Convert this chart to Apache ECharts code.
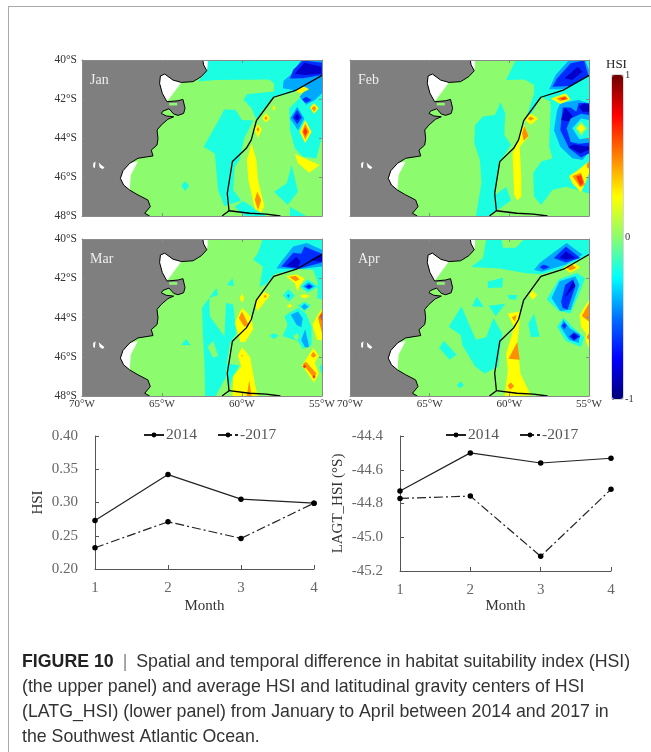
<!DOCTYPE html>
<html><head><meta charset="utf-8">
<style>html,body{margin:0;padding:0;background:#fff;width:651px;height:752px;overflow:hidden}
#frame{position:absolute;left:8px;top:6px;width:643px;height:746px;border-left:1.5px solid #aaa;border-top:1.5px solid #aaa;box-sizing:border-box}
#c{position:absolute;left:0;top:0;width:651px;height:752px;filter:blur(0.4px)}</style>
<script src="https://cdn.jsdelivr.net/npm/echarts@6/dist/echarts.min.js"></script>
</head><body><div id="frame"></div><div id="c"></div>
<script>
// HSI difference levels
const G=0,C=-0.2,L=-0.4,B=-0.65,N=-0.85,Y=0.25,O=0.47,R=0.65;
const months=['1','2','3','4'];
const hsi2014=[0.273,0.342,0.305,0.299];
const hsi2017=[0.232,0.271,0.246,0.299];
const lat2014=[-44.726,-44.50,-44.56,-44.532];
const lat2017=[-44.77,-44.756,-45.113,-44.716];
const panelNames=['Jan','Feb','Mar','Apr'];
const colorStops=['#00007a','#0000ff','#0070ff','#00ffff','#8cfc6e','#ffff00','#ff8000','#ff0000','#6e0000'];
// geography: [lon, lat]
const landCoast=[[-62.45,-40],[-62.4,-40.25],[-62.2,-40.55],[-62.54,-40.85],[-63.06,-41.11],[-63.79,-41.15],[-64.31,-41.03],[-64.83,-40.72],[-65.1,-40.82],[-65.15,-41.2],[-64.98,-41.71],[-64.69,-42.14],[-64,-42.09],[-63.69,-42.02],[-63.56,-42.48],[-63.65,-42.74],[-64,-42.84],[-64.27,-42.77],[-64.56,-42.5],[-64.94,-42.62],[-65.04,-42.74],[-64.73,-42.87],[-64.27,-42.91],[-64.63,-43.04],[-65.04,-43.33],[-65.31,-43.59],[-65.25,-44.02],[-65.31,-44.36],[-65.67,-44.62],[-65.56,-44.92],[-66.5,-45.04],[-67.02,-45.3],[-67.44,-45.68],[-67.6,-46.07],[-67.4,-46.41],[-67.02,-46.67],[-66.5,-46.92],[-65.88,-47.18],[-65.73,-47.52],[-66.08,-47.86],[-65.77,-48]];
const landCorners=[[-70,-48],[-70,-40]];
const noDataAreas=[
 [[-64.83,-40.72],[-65.1,-40.82],[-65.15,-41.2],[-64.98,-41.71],[-64.69,-42.14],[-63.79,-41.15],[-64.31,-41.03]],
 [[-66.5,-45.2],[-67.02,-45.3],[-67.44,-45.68],[-67.6,-46.07],[-67.4,-46.41],[-67.02,-46.67],[-66.95,-45.9]],
 [[-62.45,-40],[-62.15,-40],[-62.15,-40.3],[-62.2,-40.55],[-62.4,-40.25]]
];
const inlandLakes=[
 [[-69.3,-45.3],[-69.15,-45.21],[-69.2,-45.55],[-69.3,-45.5]],
 [[-68.95,-45.26],[-68.8,-45.38],[-68.6,-45.5],[-68.7,-45.6],[-68.9,-45.5]]
];
const sanJoseGulf=[[-64.55,-42.2],[-64.05,-42.2],[-64.05,-42.33],[-64.55,-42.33]];
const boundaryMain=[[-55,-40.79],[-56.6,-41.54],[-58.02,-41.91],[-59.1,-43.11],[-59.42,-44.1],[-59.73,-44.53],[-60.6,-45.21],[-60.92,-46.84],[-60.81,-47.73],[-61.25,-48]];
const boundarySouth=[[-60.81,-47.73],[-59.52,-47.86],[-58.48,-47.9],[-57.6,-48]];
const wholeArea=[[-70,-40],[-55,-40],[-55,-48],[-70,-48]];

const janPatches=[
[G,wholeArea],
[C,[[-62.1,-40],[-55,-40],[-55,-43.93],[-55.35,-45.04],[-56.2,-44.96],[-56.7,-44.53],[-57,-43.6],[-57.05,-42.48],[-56.2,-41.8],[-55.9,-41.4],[-56.6,-41.62],[-58,-41.9],[-58.7,-42.56],[-59.1,-43.08],[-59.4,-42.48],[-59.9,-42.05],[-59.7,-41.75],[-58,-41.62],[-58,-41.2],[-58.3,-41],[-61.6,-41.03],[-62.75,-41.1],[-62.2,-40.55]]],
[C,[[-62.4,-44.45],[-61.4,-43],[-61.1,-42.53],[-60.4,-42.56],[-60,-43.08],[-59.3,-43.1],[-59.85,-44],[-60.15,-45.13],[-60.45,-45.47],[-60.55,-46.67],[-60.05,-47.2],[-61.1,-47.5],[-61.5,-46.67],[-61.7,-44.8]]],
[C,[[-56.9,-45.38],[-56.5,-46.75],[-57.15,-47.43],[-58,-46.75],[-57.2,-46.32]]],
[C,[[-60.45,-47.52],[-59.95,-47.23],[-58.7,-47.86],[-58.5,-48],[-59.85,-48]]],
[C,[[-57,-47.52],[-56,-48],[-57,-48]]],
[C,[[-63.55,-46.2],[-63.3,-46.45],[-63.55,-46.72],[-63.8,-46.45]]],
[L,[[-57.45,-41.45],[-57.4,-41.06],[-56.9,-40.72],[-56.3,-40],[-55,-40],[-55,-41.7],[-55.45,-42.05],[-56,-42.3],[-56.4,-41.88],[-55.9,-41.4],[-56.6,-41.57]]],
[B,[[-57,-40.95],[-56.8,-40.5],[-56.2,-40.03],[-55,-40.14],[-55,-40.77],[-56.2,-40.94]]],
[N,[[-56.7,-40.7],[-56.1,-40.14],[-55.05,-40.35],[-55.05,-40.7],[-56,-40.77]]],
[B,[[-56.25,-42.02],[-56,-41.88],[-55.65,-42.05],[-56,-42.2]]],
[L,[[-56.55,-42.4],[-56.1,-43],[-56.5,-43.6],[-57,-43]]],
[B,[[-56.55,-42.55],[-56.25,-42.95],[-56.55,-43.3],[-56.85,-42.95]]],
[N,[[-56.55,-42.75],[-56.4,-42.95],[-56.55,-43.1],[-56.7,-42.95]]],
[Y,[[-56.7,-41.6],[-56.2,-41.33],[-55.8,-41.5],[-56.3,-41.7]]],
[Y,[[-55.75,-42.43],[-55.5,-42.2],[-55.2,-42.48],[-55.5,-42.77]]],
[O,[[-55.65,-42.48],[-55.5,-42.35],[-55.35,-42.48],[-55.5,-42.65]]],
[Y,[[-58,-42.3],[-57.9,-42.48],[-58,-42.6],[-58.1,-42.48]]],
[Y,[[-58.5,-42.7],[-58.25,-43],[-58.5,-43.2],[-58.75,-43]]],
[O,[[-58.5,-42.85],[-58.4,-43],[-58.5,-43.08],[-58.6,-43]]],
[Y,[[-59,-43.3],[-58.75,-43.55],[-59,-44],[-59.25,-43.55]]],
[O,[[-59,-43.42],[-58.92,-43.55],[-59,-43.7],[-59.08,-43.55]]],
[Y,[[-56.05,-43.08],[-55.65,-43.68],[-56.05,-44.27],[-56.4,-43.68]]],
[O,[[-56.05,-43.25],[-55.8,-43.68],[-56.05,-44.08],[-56.25,-43.68]]],
[R,[[-56.05,-43.43],[-55.92,-43.68],[-56.05,-43.9],[-56.17,-43.68]]],
[Y,[[-59.4,-44.27],[-59.1,-45.13],[-59,-46.15],[-58.6,-47.5],[-58.8,-47.83],[-59.2,-47.66],[-59.6,-46.15],[-59.7,-45.13]]],
[O,[[-59.05,-46.75],[-58.8,-47.18],[-59,-47.7],[-59.2,-47.18]]],
[Y,[[-56.7,-44.82],[-55.15,-45.38],[-55.8,-45.78],[-56.5,-45.3]]]
];
const febPatches=[
[G,wholeArea],
[C,[[-59.6,-40],[-55,-40],[-55,-46.84],[-56.45,-46.5],[-57.3,-46.67],[-58,-47.43],[-58.45,-47],[-58.5,-45.8],[-58,-45.2],[-57.3,-45.04],[-57.5,-44.45],[-57.4,-42.14],[-58,-41.88],[-58.65,-42.82],[-58.85,-42.74],[-58.45,-41.7],[-58.45,-41.28],[-59.05,-41],[-60.2,-41.03]]],
[C,[[-62.15,-43.33],[-61.65,-42.9],[-60.9,-42.82],[-60.55,-42.17],[-60.25,-42.74],[-60.3,-43.42],[-60.3,-43.85],[-59.9,-44.36],[-60.65,-45.3],[-60.85,-46.84],[-60.75,-47.7],[-61.25,-48],[-62.1,-48],[-61.75,-46.3],[-61.85,-45.13],[-62.2,-44.27]]],
[C,[[-60.85,-46.9],[-60.2,-46.5],[-59.9,-47.2],[-60.75,-47.7]]],
[L,[[-57.5,-41.5],[-57.1,-40.77],[-56.25,-40],[-55.25,-40],[-55,-40.5],[-55,-40.85],[-56.45,-41.5]]],
[B,[[-57.3,-41.37],[-57,-40.94],[-56.15,-40.17],[-55.3,-40.03],[-55.05,-40.77],[-56.15,-41.33]]],
[N,[[-56.55,-40.94],[-55.7,-40.34],[-55.4,-40.6],[-56.05,-41.03]]],
[L,[[-57,-42.56],[-56.8,-42.22],[-55.65,-42.05],[-55,-42.22],[-55,-44.7],[-55.4,-45.13],[-56.05,-45.04],[-56.8,-44.45],[-57.2,-43.6]]],
[B,[[-56.75,-43.16],[-56.65,-42.43],[-56.15,-42.43],[-55.8,-42.65],[-55.65,-42.2],[-55,-42.22],[-55,-44.8],[-55.5,-45],[-56.25,-44.53],[-56.8,-43.6]]],
[N,[[-56.75,-43.08],[-56.5,-42.43],[-56,-42.9],[-56.25,-43.16]]],
[N,[[-55.65,-42.4],[-55.3,-42.22],[-55,-42.3],[-55,-42.65],[-55.4,-42.65]]],
[N,[[-56.3,-44.45],[-55.95,-44.33],[-55,-44.45],[-55,-44.6],[-55.55,-44.8]]],
[L,[[-56.4,-43.5],[-56.15,-43],[-55.5,-42.75],[-55,-42.82],[-55,-44.24],[-55.65,-44.3],[-56.15,-44.2]]],
[C,[[-56.05,-43.5],[-55.5,-43],[-55,-43.08],[-55,-44],[-55.6,-44.07]]],
[G,[[-55.85,-43.5],[-55.5,-43.16],[-55.1,-43.5],[-55.5,-43.9]]],
[Y,[[-55.75,-43.5],[-55.5,-43.28],[-55.25,-43.5],[-55.5,-43.73]]],
[Y,[[-57.4,-41.97],[-56.45,-41.7],[-56.15,-42.02],[-56.8,-42.26]]],
[O,[[-57.05,-41.98],[-56.5,-41.83],[-56.3,-42],[-56.8,-42.1]]],
[R,[[-56.8,-41.97],[-56.5,-41.9],[-56.4,-42],[-56.65,-42.05]]],
[Y,[[-58.65,-42.74],[-58.2,-43],[-58.65,-43.33],[-59,-43.08]]],
[O,[[-58.65,-42.9],[-58.45,-43],[-58.65,-43.12],[-58.85,-43]]],
[Y,[[-59.05,-43.33],[-58.8,-43.93],[-59.35,-44.45],[-59.25,-45.98],[-59.25,-47],[-59.5,-47.2],[-59.7,-46.9],[-59.8,-44.8],[-59.45,-44.1],[-59.25,-43.6]]],
[O,[[-59.05,-43.38],[-58.8,-43.9],[-59.1,-44.14],[-59.2,-43.76]]],
[Y,[[-56.25,-45.95],[-55.75,-45.68],[-55.3,-45.38],[-55,-45.2],[-55,-45.8],[-55.2,-46.25],[-55.5,-46.8],[-56.05,-46.32]]],
[O,[[-56.05,-45.95],[-55.5,-45.78],[-55.25,-46.4],[-55.55,-46.53]]],
[R,[[-55.8,-45.98],[-55.5,-45.9],[-55.35,-46.3],[-55.55,-46.45]]],
[O,[[-55.15,-45.35],[-55,-45.2],[-55,-45.55],[-55.1,-45.55]]]
];
const marPatches=[
[G,wholeArea],
[C,[[-58.7,-40],[-55,-40],[-55,-43.1],[-55.3,-43],[-55.25,-42.25],[-55.55,-41.57],[-56.5,-41.53],[-58,-41.8],[-58.5,-42.3],[-58.9,-42.43],[-58.7,-41.4],[-59.3,-41.06],[-59,-40.7]]],
[L,[[-57.85,-41.5],[-57.55,-41.15],[-56.8,-40.38],[-55.95,-40.2],[-55,-40.55],[-55,-41.4],[-56.4,-41.53]]],
[B,[[-57.55,-41.4],[-56.8,-40.7],[-56.3,-40.75],[-56.1,-40.38],[-55,-40.75],[-55,-41.2],[-56.5,-41.53]]],
[N,[[-57.25,-41.37],[-56.6,-40.9],[-56.35,-41.15],[-56.5,-41.47]]],
[N,[[-55.7,-41.05],[-55,-40.75],[-55,-41.15],[-55.35,-41.15]]],
[C,[[-62.5,-43.5],[-61.6,-42.5],[-61.5,-42.85],[-62.05,-43],[-62,-43.95],[-61.1,-44.97],[-61,-43.25],[-60.55,-43.35],[-60.35,-44.8],[-60.75,-45.33],[-60.95,-46.35],[-61,-47.05],[-61.65,-48],[-62.3,-48],[-62.35,-46.35],[-62.45,-44.8]]],
[G,[[-62.15,-45.5],[-61.8,-45.2],[-61.5,-45.95],[-61.8,-46.05]]],
[C,[[-60.95,-46.35],[-60.15,-46.45],[-60.6,-47.03],[-60.75,-47.55],[-60.95,-47]]],
[C,[[-63.8,-45.4],[-63.5,-45.1],[-63.2,-45.42]]],
[C,[[-60.95,-42.35],[-60.6,-42],[-60.5,-42.4]]],
[C,[[-56.4,-42.42],[-55.9,-42.05],[-55.2,-42.42],[-55.9,-42.73]]],
[L,[[-56.2,-42.42],[-55.85,-42.2],[-55.45,-42.42],[-55.85,-42.6]]],
[B,[[-56.05,-42.42],[-55.8,-42.3],[-55.6,-42.42],[-55.8,-42.55]]],
[C,[[-57.45,-42.88],[-57.1,-42.55],[-56.7,-42.88],[-57.05,-43.18]]],
[L,[[-57.1,-42.8],[-57,-42.88],[-57.1,-43],[-57.2,-42.88]]],
[C,[[-56.5,-43.4],[-56.1,-43.2],[-55.7,-43.4],[-56.1,-43.7]]],
[L,[[-56.3,-43.45],[-56.1,-43.3],[-55.85,-43.45],[-56.1,-43.6]]],
[C,[[-57.35,-43.92],[-56.5,-43.5],[-56,-43.8],[-55.65,-44.47],[-55.65,-45.4],[-56.2,-45.6],[-56.5,-45.2],[-57.45,-44.96],[-57.15,-44.37]]],
[G,[[-56.8,-44.96],[-56.55,-44.8],[-56.4,-44.96],[-56.6,-45.2]]],
[L,[[-56.95,-43.86],[-56.5,-43.7],[-56.2,-44.05],[-56.3,-44.5],[-56.6,-44.37]]],
[L,[[-56.3,-45.15],[-56.05,-44.6],[-55.8,-45.5],[-56.05,-45.53]]],
[C,[[-58.3,-44.93],[-58,-44.8],[-57.7,-44.93],[-58,-45.1]]],
[C,[[-55,-46.35],[-55.15,-46.55],[-55,-46.9]]],
[Y,[[-57.25,-41.9],[-56.6,-41.8],[-56.1,-42],[-56.55,-42.67],[-56.7,-42.25]]],
[O,[[-57.05,-41.93],[-56.65,-41.87],[-56.4,-42.05],[-56.65,-42.15]]],
[Y,[[-56.4,-42.9],[-56.1,-42.8],[-55.75,-42.9],[-56.1,-43.03]]],
[Y,[[-57.2,-43.42],[-57,-43.3],[-56.85,-43.42],[-57.05,-43.52]]],
[Y,[[-55,-43.55],[-55.3,-43.92],[-55.6,-44.37],[-55.3,-45.15],[-55,-45.15]]],
[O,[[-55,-43.67],[-55.25,-44],[-55,-44.8]]],
[R,[[-55,-43.8],[-55.15,-43.95],[-55,-44.15]]],
[Y,[[-56.25,-46.45],[-55.55,-45.55],[-55.2,-45.93],[-55.45,-46.3],[-55.2,-46.85],[-55.5,-47.33]]],
[O,[[-56.2,-46.38],[-56,-46.25],[-55.35,-46.85],[-55.5,-47.08]]],
[O,[[-55.55,-45.75],[-55.35,-45.93],[-55.55,-46.05],[-55.7,-45.93]]],
[R,[[-56.1,-46.4],[-56,-46.5],[-56.1,-46.6],[-56.2,-46.5]]],
[R,[[-55.5,-46.92],[-55.4,-47.02],[-55.5,-47.12],[-55.6,-47.02]]],
[Y,[[-60.15,-43.02],[-60,-42.77],[-59.85,-43.02],[-60,-43.25]]],
[Y,[[-59.2,-43.2],[-58.6,-42.67],[-58.25,-42.87],[-59.05,-43.7]]],
[O,[[-58.55,-42.85],[-58.45,-42.9],[-58.55,-43],[-58.65,-42.9]]],
[Y,[[-60.45,-44.27],[-60,-43.5],[-59.4,-44],[-59.3,-44.6],[-59.8,-45.25],[-60.1,-45.25]]],
[O,[[-60.2,-44.03],[-60,-43.7],[-59.6,-44.37],[-59.85,-44.47]]],
[Y,[[-60.25,-45.92],[-60,-45.5],[-59.5,-46],[-59.15,-47.55],[-59,-48],[-60.6,-48],[-60.55,-47],[-60.05,-46.5]]],
[O,[[-60,-45.9],[-59.95,-45.95],[-60,-46],[-60.05,-45.95]]],
[O,[[-59.55,-47.2],[-59.4,-48],[-59.7,-48]]]
];
const aprPatches=[
[G,wholeArea],
[C,[[-61.45,-40],[-55,-40],[-55,-40.8],[-56.25,-41.4],[-58,-41.8],[-58.95,-41.75],[-60.6,-41.5],[-62.4,-41.43],[-61.65,-40.97]]],
[G,[[-60.5,-40],[-59.05,-40],[-59.6,-40.45],[-60.4,-40.45]]],
[L,[[-58.45,-41.57],[-58.1,-41.22],[-57.25,-40.7],[-56.4,-40.2],[-55.4,-40.8],[-56.45,-41.3],[-57.95,-41.67]]],
[B,[[-58.1,-41.43],[-57.85,-41.3],[-57.45,-41.43],[-57.85,-41.57]]],
[B,[[-57.2,-40.97],[-56.45,-40.38],[-55.55,-40.97],[-56.45,-41.2]]],
[N,[[-56.85,-40.97],[-56.45,-40.63],[-55.85,-40.97],[-56.45,-41.05]]],
[Y,[[-56.6,-41.43],[-55.95,-41.2],[-55.55,-41.47],[-56.2,-41.73]]],
[O,[[-56.45,-41.45],[-56.05,-41.33],[-55.8,-41.47],[-56.15,-41.6]]],
[C,[[-57.65,-43.07],[-56.9,-42.07],[-55.75,-41.73],[-55.25,-42],[-55.65,-42.85],[-56.15,-43.78],[-56.9,-43.67]]],
[L,[[-57.35,-43],[-56.85,-42.15],[-55.85,-41.9],[-55.6,-42.33],[-56.15,-43.6],[-56.8,-43.67]]],
[B,[[-56.75,-43.2],[-56.5,-42.35],[-56,-42.05],[-55.85,-42.4],[-56.35,-43.6],[-56.65,-43.5]]],
[N,[[-56.55,-43],[-56,-42.13],[-55.85,-42.4],[-56.25,-42.75]]],
[C,[[-57,-44.47],[-56.6,-44],[-56.05,-44.47],[-55.3,-45],[-55.5,-45.5],[-56.45,-45.2]]],
[L,[[-56.8,-44.47],[-56.6,-44.13],[-56.2,-44.55],[-55.55,-44.87],[-55.65,-45.3],[-56.25,-45.13]]],
[B,[[-56.7,-44.42],[-56.55,-44.25],[-56.4,-44.42],[-56.55,-44.6]]],
[B,[[-56.25,-44.97],[-55.95,-44.75],[-55.55,-44.97],[-55.95,-45.2]]],
[N,[[-56.1,-44.97],[-55.95,-44.83],[-55.7,-44.97],[-55.95,-45.1]]],
[C,[[-61.35,-42.17],[-60.4,-41.97],[-60.45,-42.47],[-61.35,-42.5]]],
[C,[[-60.1,-42.85],[-59.5,-42.85],[-59.6,-43.1],[-60,-43.07]]],
[C,[[-62.35,-43.43],[-62.05,-42.93],[-61.6,-43.47]]],
[C,[[-61.3,-43.4],[-60.25,-43.3],[-60.85,-43.93]]],
[C,[[-63.8,-44.47],[-63,-43.43],[-62.6,-44.2],[-62.1,-45.13],[-61.45,-45],[-61,-44.03],[-60.45,-44.8],[-60.55,-45.4],[-60.7,-46.5],[-61.55,-46.85],[-62.15,-46.5],[-62.95,-45.4],[-63.05,-44.9]]],
[C,[[-64.4,-45.55],[-64.1,-45.2],[-63.3,-45.9],[-63.75,-46.15]]],
[C,[[-63.3,-47.45],[-63.05,-47.25],[-62.85,-47.45],[-63.1,-47.6]]],
[C,[[-58.8,-44.3],[-58.45,-43.8],[-58.1,-44.97],[-58.65,-45]]],
[Y,[[-55,-43.1],[-55.6,-43.87],[-55.5,-44.47],[-55.2,-44.8],[-55.2,-45.2],[-55,-45.58]]],
[O,[[-55,-43.27],[-55.45,-43.92],[-55,-44.2]]],
[O,[[-55,-44.8],[-55.15,-45],[-55,-45.15]]],
[Y,[[-58.75,-42.87],[-58.55,-42.63],[-58.25,-42.87],[-58.55,-43.1]]],
[Y,[[-60.1,-43.8],[-59.3,-43.7],[-59.4,-44.63],[-59.5,-45.3],[-59.3,-46.85],[-58.65,-47.97],[-60.3,-48],[-60.1,-46.7],[-60.2,-45.85],[-59.7,-44.5]]],
[O,[[-59.85,-44],[-59.55,-43.87],[-59.65,-44.2]]],
[O,[[-60.05,-46.1],[-59.5,-45.25],[-59.35,-46.15]]],
[O,[[-60.1,-47.47],[-59.9,-47.3],[-59.7,-47.5],[-59.95,-47.68]]]
];
const allPatches=[janPatches,febPatches,marPatches,aprPatches];
const captionText='{b|FIGURE 10} {l||} Spatial and temporal difference in habitat suitability index (HSI)\n(the upper panel) and average HSI and latitudinal gravity centers of HSI\n(LATG_HSI) (lower panel) from January to April between 2014 and 2017 in\nthe Southwest Atlantic Ocean.';

const serif='"Liberation Serif"';
const grids=[
 {left:82,top:60,width:240,height:156},{left:350,top:60,width:239,height:156},
 {left:82,top:239,width:240,height:157},{left:350,top:239,width:239,height:157},
 {left:95,top:436,width:219,height:133},{left:400,top:436,width:211,height:135},
 {left:612,top:75,width:11,height:324,show:true,borderColor:'#b0b0b0',borderWidth:1,backgroundColor:'transparent'}];
const xAxes=[],yAxes=[],series=[];
const axisGray='#8a8a8a';
function polyRender(rings,fill){
  return (params,api)=>({type:'polygon',shape:{points:rings[params.dataIndex].map(p=>api.coord(p))},
    style:{fill:fill||api.visual('color')}});
}
function polySeries(g,rings,fill){
  return {type:'custom',coordinateSystem:'cartesian2d',xAxisIndex:g*2,yAxisIndex:g*2,clip:true,silent:true,
    data:rings.map((r,i)=>[i]),renderItem:polyRender(rings,fill),animation:false};
}
function lineSeries(g,pts,w){
  return {type:'line',xAxisIndex:g*2,yAxisIndex:g*2,data:pts,showSymbol:false,silent:true,clip:true,
    lineStyle:{color:'#000',width:w},animation:false,z:3};
}
const patchIdx=[];
panelNames.forEach((nm,g)=>{
  const showX=g>=2, showY=g%2===0;
  xAxes.push({gridIndex:g,type:'value',min:-70,max:-55,interval:5,position:'bottom',z:6,
    axisLine:{onZero:false,lineStyle:{color:axisGray}},axisTick:{inside:true,length:3,lineStyle:{color:axisGray}},splitLine:{show:false},
    axisLabel:{show:showX,margin:3,fontFamily:serif,fontSize:11,color:'#333',hideOverlap:false,showMinLabel:true,showMaxLabel:true,formatter:v=>Math.abs(v)+'°W'}});
  xAxes.push({gridIndex:g,type:'value',min:-70,max:-55,interval:5,position:'top',z:6,
    axisLine:{onZero:false,lineStyle:{color:axisGray}},axisTick:{inside:true,length:3,lineStyle:{color:axisGray}},splitLine:{show:false},axisLabel:{show:false}});
  yAxes.push({gridIndex:g,type:'value',min:-48,max:-40,interval:2,position:'left',z:6,
    axisLine:{onZero:false,lineStyle:{color:axisGray}},axisTick:{inside:true,length:3,lineStyle:{color:axisGray}},splitLine:{show:false},
    axisLabel:{show:showY,margin:5,fontFamily:serif,fontSize:11.5,color:'#333',showMinLabel:true,showMaxLabel:true,formatter:v=>Math.abs(v)+'°S'}});
  yAxes.push({gridIndex:g,type:'value',min:-48,max:-40,interval:2,position:'right',z:6,
    axisLine:{onZero:false,lineStyle:{color:axisGray}},axisTick:{inside:true,length:3,lineStyle:{color:axisGray}},splitLine:{show:false},axisLabel:{show:false}});
  const patches=allPatches[g];
  const rings=patches.map(p=>p[1]);
  patchIdx.push(series.length);
  series.push({type:'custom',coordinateSystem:'cartesian2d',xAxisIndex:g*2,yAxisIndex:g*2,clip:true,silent:true,animation:false,
    dimensions:['hsi'],encode:{x:-1,y:-1},data:patches.map(p=>[p[0]]),renderItem:polyRender(rings)});
  series.push(polySeries(g,noDataAreas,'#ffffff'));
  series.push(polySeries(g,[landCoast.concat(landCorners)],'#7f7f7f'));
  series.push(polySeries(g,inlandLakes,'#ffffff'));
  series.push(polySeries(g,[sanJoseGulf],colorStops[4]));
  series.push(lineSeries(g,landCoast,1));
  series.push(lineSeries(g,boundaryMain,1.3));
  series.push(lineSeries(g,boundarySouth,1.3));
});
// trend charts
function trend(g,name,a,b,min,max,interval,dec,nameGap,monthGap,labelMargin){
  const xi=xAxes.length, yi=yAxes.length;
  xAxes.push({gridIndex:g,type:'category',boundaryGap:false,data:months,name:'Month',nameLocation:'middle',nameGap:monthGap,
    nameTextStyle:{fontFamily:serif,fontSize:15,color:'#333'},
    axisLine:{onZero:false,lineStyle:{color:'#555'}},axisTick:{inside:true,length:4,alignWithLabel:true,lineStyle:{color:'#555'}},splitLine:{show:false},
    axisLabel:{margin:labelMargin,fontFamily:serif,fontSize:15,color:'#666',showMinLabel:true,showMaxLabel:true,interval:0}});
  yAxes.push({gridIndex:g,type:'value',min,max,interval,name,nameLocation:'middle',nameGap,
    nameTextStyle:{fontFamily:serif,fontSize:15,color:'#333'},
    axisLine:{show:true,onZero:false,lineStyle:{color:'#555'}},axisTick:{show:true,inside:true,length:4,lineStyle:{color:'#555'}},splitLine:{show:false},
    axisLabel:{margin:17,fontFamily:serif,fontSize:15,color:'#666',formatter:v=>v.toFixed(dec)}});
  const mk=(nm,d,type)=>({type:'line',name:nm,xAxisIndex:xi,yAxisIndex:yi,data:d,symbol:'circle',symbolSize:5.5,animation:false,silent:true,
    itemStyle:{color:'#000'},lineStyle:{color:'#222',width:1.2,type}});
  series.push(mk('2014',a,'solid'));
  series.push(mk('-2017',b,[9,3,2,3]));
}
trend(4,'HSI',hsi2014,hsi2017,0.2,0.4,0.05,2,49,30,12);
trend(5,'LAGT_HSI (°S)',lat2014,lat2017,-45.2,-44.4,0.2,1,54,27,12);
// colour bar axis
xAxes.push({gridIndex:6,type:'value',min:0,max:1,show:false});
yAxes.push({gridIndex:6,type:'value',min:-1,max:1,interval:1,position:'right',
  axisLine:{show:false},axisTick:{show:true,inside:false,length:2,lineStyle:{color:axisGray}},splitLine:{show:false},
  axisLabel:{margin:2,fontFamily:serif,fontSize:10.5,color:'#333'}});
const legendBase={selectedMode:false,itemWidth:20,itemHeight:6,itemGap:20,padding:0,orient:'horizontal',data:['2014','-2017'],
  textStyle:{fontFamily:serif,fontSize:15.5,color:'#555',padding:[0,0,0,-3]}};
const titles=panelNames.map((nm,i)=>({text:nm,left:grids[i].left+8,top:grids[i].top+13,padding:0,
  textStyle:{fontFamily:serif,fontSize:14,fontWeight:'normal',color:'#eeeeee'}}));
titles.push({text:'HSI',left:606,top:58,padding:0,textStyle:{fontFamily:serif,fontSize:13,fontWeight:'normal',color:'#222'}});
const capSize=17.75;
titles.push({text:captionText,left:22,top:649,padding:0,textStyle:{fontFamily:'"Liberation Sans"',fontSize:capSize,fontWeight:'normal',color:'#333',lineHeight:25.3,
  rich:{b:{fontFamily:'"Liberation Sans"',fontSize:capSize,fontWeight:'bold',color:'#222',lineHeight:25.3},
        l:{fontFamily:'"Liberation Sans"',fontSize:capSize,color:'#888',fontWeight:'normal',lineHeight:25.3,padding:[0,4,0,4]}}}});
const chart=echarts.init(document.getElementById('c'),null,{renderer:'canvas'});
chart.setOption({
  backgroundColor:'transparent',animation:false,
  title:titles,grid:grids,xAxis:xAxes,yAxis:yAxes,series,
  legend:[Object.assign({},legendBase,{left:143,top:427}),Object.assign({},legendBase,{left:445,top:427})],
  visualMap:{type:'continuous',min:-1,max:1,seriesIndex:patchIdx,dimension:0,left:612,top:75,itemWidth:11,itemHeight:324,padding:0,
    text:null,showLabel:false,calculable:false,hoverLink:false,realtime:false,inRange:{color:colorStops}}
});
</script></body></html>
